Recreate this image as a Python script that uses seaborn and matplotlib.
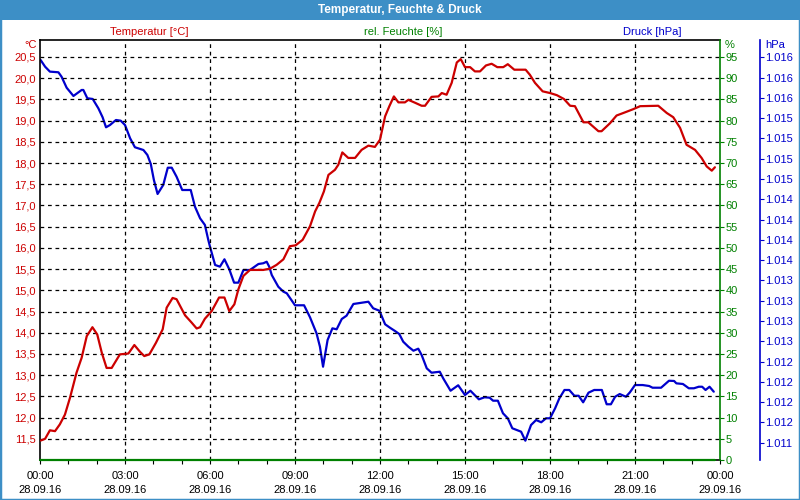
import numpy as np
import pandas as pd
import matplotlib
matplotlib.use("Agg")
import matplotlib.pyplot as plt
import seaborn as sns
from matplotlib.patches import Rectangle
from matplotlib.ticker import MultipleLocator

# ---------------- data ----------------
temp_hours = [0.03, 0.18, 0.35, 0.53, 0.70, 0.88, 1.06, 1.29, 1.47, 1.65, 1.85, 2.02, 2.18, 2.35, 2.53,
              2.82, 3.12, 3.33, 3.53, 3.68, 3.86, 4.09, 4.33, 4.47, 4.68, 4.82, 5.12, 5.35, 5.53, 5.65,
              5.82, 6.06, 6.32, 6.51, 6.68, 6.86, 7.00, 7.18, 7.41, 7.88, 8.12, 8.35, 8.59, 8.82, 9.02,
              9.27, 9.53, 9.71, 9.86, 10.02, 10.18, 10.41, 10.53, 10.67, 10.88, 11.12, 11.35, 11.59,
              11.82, 12.00, 12.18, 12.33, 12.49, 12.65, 12.88, 13.00, 13.24, 13.47, 13.59, 13.82, 14.06,
              14.18, 14.35, 14.53, 14.71, 14.85, 15.00, 15.18, 15.35, 15.53, 15.74, 15.94, 16.14, 16.35,
              16.51, 16.74, 17.14, 17.29, 17.47, 17.74, 18.00, 18.24, 18.49, 18.71, 18.88, 19.18, 19.35,
              19.71, 19.82, 20.12, 20.35, 20.59, 20.94, 21.18, 21.82, 22.12, 22.35, 22.59, 22.82, 23.12,
              23.35, 23.53, 23.71, 23.82]
temp_values = [11.46, 11.50, 11.70, 11.68, 11.84, 12.07, 12.47, 13.06, 13.41, 13.92, 14.13, 13.96, 13.53,
               13.17, 13.17, 13.49, 13.51, 13.71, 13.55, 13.45, 13.49, 13.76, 14.08, 14.59, 14.82, 14.79,
               14.41, 14.24, 14.10, 14.13, 14.33, 14.51, 14.83, 14.83, 14.51, 14.67, 15.02, 15.34, 15.48,
               15.48, 15.51, 15.60, 15.73, 16.04, 16.06, 16.19, 16.51, 16.86, 17.06, 17.33, 17.72, 17.84,
               17.96, 18.25, 18.12, 18.12, 18.31, 18.41, 18.38, 18.55, 19.10, 19.34, 19.57, 19.43, 19.43,
               19.49, 19.42, 19.35, 19.35, 19.56, 19.57, 19.65, 19.61, 19.89, 20.37, 20.45, 20.26, 20.26,
               20.16, 20.16, 20.30, 20.34, 20.26, 20.26, 20.33, 20.20, 20.20, 20.08, 19.89, 19.69, 19.65,
               19.60, 19.51, 19.35, 19.34, 18.96, 18.96, 18.75, 18.75, 18.94, 19.12, 19.18, 19.27, 19.34,
               19.35, 19.18, 19.08, 18.83, 18.43, 18.31, 18.12, 17.92, 17.82, 17.90]

press_hours = [0.02, 0.18, 0.35, 0.65, 0.76, 0.94, 1.18, 1.47, 1.53, 1.67, 1.86, 2.06, 2.21, 2.33, 2.47,
               2.68, 2.85, 3.00, 3.18, 3.35, 3.65, 3.79, 3.91, 4.02, 4.15, 4.35, 4.51, 4.65, 4.82, 5.02,
               5.32, 5.47, 5.65, 5.82, 5.94, 6.00, 6.18, 6.35, 6.51, 6.68, 6.85, 7.00, 7.18, 7.41, 7.71,
               7.88, 8.00, 8.09, 8.18, 8.41, 8.59, 8.71, 9.00, 9.32, 9.53, 9.76, 9.88, 9.99, 10.15, 10.32,
               10.47, 10.65, 10.82, 11.06, 11.59, 11.76, 11.98, 12.18, 12.35, 12.53, 12.68, 12.82, 13.00,
               13.18, 13.35, 13.47, 13.65, 13.82, 14.11, 14.23, 14.49, 14.76, 15.00, 15.19, 15.49, 15.69,
               15.87, 15.99, 16.16, 16.34, 16.51, 16.67, 16.98, 17.13, 17.33, 17.51, 17.69, 17.86, 18.00,
               18.18, 18.33, 18.51, 18.68, 18.86, 19.01, 19.17, 19.36, 19.56, 19.83, 20.00, 20.15, 20.30,
               20.46, 20.68, 20.82, 21.00, 21.27, 21.50, 21.62, 21.92, 22.20, 22.38, 22.46, 22.69, 22.90,
               23.08, 23.25, 23.37, 23.49, 23.63, 23.78]
press_values = [1016.067, 1015.984, 1015.923, 1015.915, 1015.861, 1015.725, 1015.623, 1015.697, 1015.697,
                1015.595, 1015.586, 1015.471, 1015.360, 1015.237, 1015.265, 1015.327, 1015.318, 1015.265,
                1015.102, 1014.991, 1014.957, 1014.896, 1014.785, 1014.587, 1014.415, 1014.526, 1014.739,
                1014.739, 1014.628, 1014.464, 1014.464, 1014.258, 1014.115, 1014.033, 1013.848, 1013.765,
                1013.540, 1013.519, 1013.610, 1013.487, 1013.322, 1013.322, 1013.478, 1013.478, 1013.552,
                1013.561, 1013.580, 1013.519, 1013.416, 1013.272, 1013.211, 1013.191, 1013.043, 1013.043,
                1012.895, 1012.698, 1012.533, 1012.286, 1012.615, 1012.759, 1012.747, 1012.874, 1012.915,
                1013.059, 1013.087, 1013.006, 1012.976, 1012.809, 1012.767, 1012.726, 1012.689, 1012.594,
                1012.533, 1012.483, 1012.508, 1012.430, 1012.266, 1012.212, 1012.224, 1012.143, 1011.990,
                1012.057, 1011.937, 1011.990, 1011.884, 1011.909, 1011.904, 1011.867, 1011.867, 1011.712,
                1011.650, 1011.527, 1011.485, 1011.374, 1011.567, 1011.629, 1011.601, 1011.650, 1011.650,
                1011.773, 1011.896, 1011.999, 1011.999, 1011.928, 1011.928, 1011.847, 1011.966, 1011.999,
                1011.999, 1011.823, 1011.823, 1011.916, 1011.949, 1011.916, 1011.970, 1012.060, 1012.060,
                1012.048, 1012.027, 1012.027, 1012.113, 1012.110, 1012.081, 1012.073, 1012.020, 1012.020,
                1012.039, 1012.039, 1011.999, 1012.039, 1011.978]

hum_hours = [0.0, 23.82]
hum_values = [0, 0]

x_tick_hours = [0, 3, 6, 9, 12, 15, 18, 21, 24]
x_tick_times = ["00:00", "03:00", "06:00", "09:00", "12:00", "15:00", "18:00", "21:00", "00:00"]
x_tick_dates = ["28.09.16"] * 8 + ["29.09.16"]

temp_ticks = [11.5, 12.0, 12.5, 13.0, 13.5, 14.0, 14.5, 15.0, 15.5, 16.0,
              16.5, 17.0, 17.5, 18.0, 18.5, 19.0, 19.5, 20.0, 20.5]
hum_ticks = [0, 5, 10, 15, 20, 25, 30, 35, 40, 45, 50, 55, 60, 65, 70, 75, 80, 85, 90, 95]
press_ticks = [1016.10, 1015.85, 1015.60, 1015.35, 1015.10, 1014.85, 1014.60, 1014.35, 1014.10, 1013.85,
               1013.60, 1013.35, 1013.10, 1012.85, 1012.60, 1012.35, 1012.10, 1011.85, 1011.60, 1011.35]

title = "Temperatur, Feuchte & Druck"
series_names = ["Temperatur [°C]", "rel. Feuchte [%]", "Druck [hPa]"]

# ---------------- style ----------------
RED = "#cc0000"
GREEN = "#008000"
BLUE = "#0000cc"
FRAME = "#3d8fc6"

sns.set_style("white")
plt.rcParams["font.family"] = ["Liberation Sans", "DejaVu Sans"]
plt.rcParams["font.size"] = 8

fig = plt.figure(figsize=(8, 5), dpi=100)
fig.patch.set_facecolor("white")
ax = fig.add_axes([0.05, 0.08, 0.85, 0.84])
ax2 = ax.twinx()
ax3 = ax.twinx()

df_t = pd.DataFrame({"h": temp_hours, "v": temp_values})
df_p = pd.DataFrame({"h": press_hours, "v": press_values})
df_h = pd.DataFrame({"h": hum_hours, "v": hum_values})

sns.lineplot(data=df_p, x="h", y="v", ax=ax3, color=BLUE, linewidth=1.6)
sns.lineplot(data=df_t, x="h", y="v", ax=ax, color=RED, linewidth=1.6, zorder=5)
sns.lineplot(data=df_h, x="h", y="v", ax=ax2, color=GREEN, linewidth=1.6, clip_on=False, zorder=10)

ax.set_zorder(3)
ax.patch.set_visible(False)
ax3.set_zorder(2)
ax2.set_zorder(4)
ax2.patch.set_visible(False)
ax3.patch.set_visible(False)

# limits
ax.set_xlim(0, 24)
ax.set_ylim(11.0, 20.9)
ax2.set_ylim(0, 99)
ax3.set_ylim(1011.136, 1016.313)

# grid
dash = (0, (3, 3))
for v in temp_ticks:
    ax.axhline(v, color="black", lw=0.9, linestyle=dash, zorder=0)
for h in x_tick_hours[1:-1]:
    ax.axvline(h, color="black", lw=0.9, linestyle=dash, zorder=0)

# x axis
ax.set_xticks(x_tick_hours)
ax.set_xticklabels([f"{t}\n{d}" for t, d in zip(x_tick_times, x_tick_dates)], linespacing=1.45)
ax.xaxis.set_minor_locator(MultipleLocator(1))
ax.tick_params(axis="x", which="both", direction="out", length=3, width=0.8, colors="black",
               bottom=True, pad=5, labelsize=8)
ax.set_xlabel("")

# left (temperature)
ax.set_yticks(temp_ticks)
ax.set_yticklabels([f"{v:.1f}".replace(".", ",") for v in temp_ticks])
ax.tick_params(axis="y", length=0, pad=3, labelcolor=RED, labelsize=8)
ax.set_ylabel("")

# right (humidity)
ax2.set_yticks(hum_ticks)
ax2.set_yticklabels([str(v) for v in hum_ticks])
ax2.tick_params(axis="y", direction="out", length=3, width=0.8, color=GREEN, labelcolor=GREEN,
                pad=1, labelsize=8)
ax2.set_ylabel("")

# far right (pressure) -- 40 px to the right of the humidity spine
ax3.spines["right"].set_position(("outward", 40 * 72 / 100))
ax3.set_yticks(press_ticks)
ax3.set_yticklabels([f"{round(v):,}".replace(",", ".") for v in press_ticks])
ax3.tick_params(axis="y", direction="out", length=3, width=0.8, color=BLUE, labelcolor=BLUE,
                pad=1, labelsize=8)
ax3.set_ylabel("")

# spines
for a in (ax, ax2, ax3):
    for s in a.spines.values():
        s.set_visible(False)
for s in ("left", "top", "bottom"):
    ax.spines[s].set_visible(True)
    ax.spines[s].set_color("black")
    ax.spines[s].set_linewidth(1.2)
ax2.spines["right"].set_visible(True)
ax2.spines["right"].set_color(GREEN)
ax2.spines["right"].set_linewidth(1.2)
ax3.spines["right"].set_visible(True)
ax3.spines["right"].set_color(BLUE)
ax3.spines["right"].set_linewidth(1.2)

# unit labels
fig.text(37 / 800, 1 - 45 / 500, "°C", color=RED, ha="right", va="center", fontsize=8)
fig.text(725 / 800, 1 - 45 / 500, "%", color=GREEN, ha="left", va="center", fontsize=8)
fig.text(765 / 800, 1 - 45 / 500, "hPa", color=BLUE, ha="left", va="center", fontsize=8)

# series headers
fig.text(149 / 800, 1 - 32 / 500, series_names[0], color=RED, ha="center", va="center", fontsize=8)
fig.text(403 / 800, 1 - 32 / 500, series_names[1], color=GREEN, ha="center", va="center", fontsize=8)
fig.text(652 / 800, 1 - 32 / 500, series_names[2], color=BLUE, ha="center", va="center", fontsize=8)

# title bar and frame
fig.patches.append(Rectangle((0, 0.96), 1, 0.04, transform=fig.transFigure,
                             facecolor=FRAME, edgecolor="none", zorder=0))
fig.patches.append(Rectangle((0, 0), 1, 1, transform=fig.transFigure, fill=False,
                             edgecolor=FRAME, linewidth=2.5, zorder=10))
fig.text(0.5, 1 - 10 / 500, title, color="white", ha="center", va="center",
         fontsize=8.5, fontweight="bold")

fig.savefig("out.png", dpi=100, facecolor="white")
